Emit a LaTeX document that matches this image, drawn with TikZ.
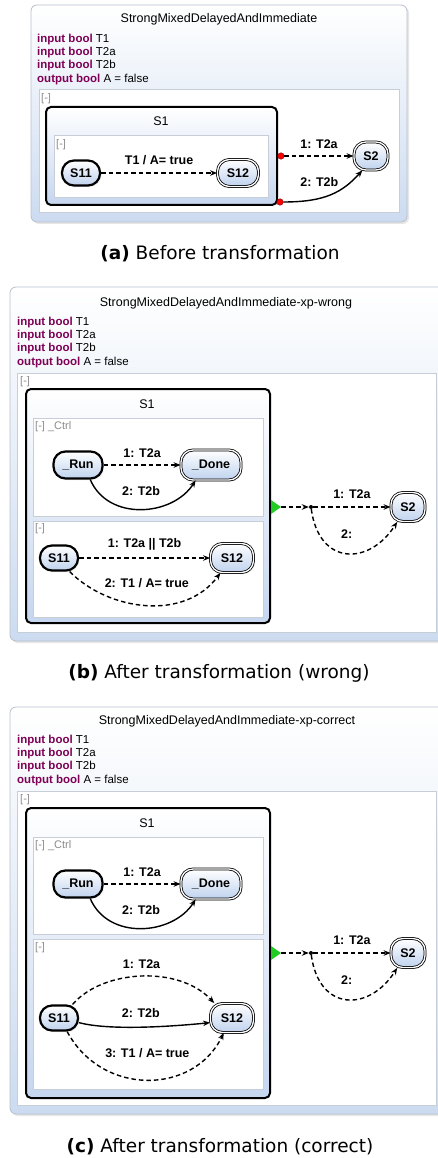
\documentclass[tikz,border=0pt]{standalone}
\usepackage{fontspec}
\setmainfont{Liberation Sans}
\newfontfamily\capfont{DejaVu Sans}
\usetikzlibrary{arrows.meta,shadows}

\definecolor{kwpurple}{HTML}{7F0055}
\definecolor{panelblue}{HTML}{CCDBF0}
\definecolor{panelline}{HTML}{B7C0CC}
\definecolor{regionline}{HTML}{C8CED8}
\definecolor{superblue}{HTML}{C6D6EF}
\definecolor{stateblue}{HTML}{BFD2EE}
\definecolor{foldgray}{HTML}{8C8C8C}
\definecolor{initgreen}{HTML}{22CC22}

\newcommand{\keyw}[1]{\textcolor{kwpurple}{\textbf{#1}}}

\begin{document}
\begin{tikzpicture}[
  x=1pt, y=-1pt,
  panel/.style={draw=panelline, line width=0.8pt, rounded corners=6pt, top color=white, bottom color=panelblue,
    drop shadow={opacity=0.2, shadow xshift=2pt, shadow yshift=-2pt}},
  region/.style={draw=regionline, line width=0.8pt, fill=white},
  superstate/.style={draw, line width=2pt, rounded corners=5pt, top color=white, bottom color=superblue},
  statenode/.style={rectangle, rounded corners=12pt, draw, inner sep=0pt, top color=white, bottom color=stateblue,
    font=\bfseries\fontsize{12.5}{15}\selectfont,
    drop shadow={opacity=0.15, shadow xshift=1.5pt, shadow yshift=-1.5pt}},
  initstate/.style={statenode, line width=2.2pt},
  finalstate/.style={statenode, line width=0.8pt, double, double distance=1.3pt},
  trans/.style={-{Stealth[length=7pt,width=5.5pt]}, line width=1.4pt},
  delayed/.style={trans, dash pattern=on 4.5pt off 3pt},
  lbl/.style={font=\bfseries\fontsize{12.5}{15}\selectfont, inner sep=1pt},
  heading/.style={font=\fontsize{12.5}{15}\selectfont},
  decls/.style={anchor=north west, inner sep=0pt, align=left, font=\fontsize{11.5}{13.4}\selectfont},
  fold/.style={anchor=west, inner sep=0pt, text=foldgray, font=\fontsize{11}{13}\selectfont},
  subcap/.style={font=\capfont\fontsize{18.5}{22}\selectfont},
  port/.style={circle, draw=red!50!black, fill=red, inner sep=0pt, minimum size=6.5pt},
  junction/.style={circle, fill, inner sep=0pt, minimum size=4pt}
]
  \useasboundingbox (0,0) rectangle (438,1158);
  \clip (0,0) rectangle (438,1158);

  % (a) before transformation
  \draw[panel] (31,5) rectangle (407,222);
  \node[heading] at (219,19) {StrongMixedDelayedAndImmediate};
  \node[decls] at (37,33.6) {\keyw{input bool} T1\\ \keyw{input bool} T2a\\ \keyw{input bool} T2b\\ \keyw{output bool} A = false};
  \draw[region] (39,89) rectangle (399,212);
  \node[fold] at (41,99) {[-]};
  \draw[superstate] (46,107) rectangle (277,205);
  \node[heading] at (161,121) {S1};
  \draw[region] (54,135) rectangle (268,197);
  \node[fold] at (56,145) {[-]};

  \node[initstate, minimum width=38pt, minimum height=25pt] (S11a) at (81,173) {S11};
  \node[finalstate, minimum width=41pt, minimum height=27pt] (S12a) at (238,173) {S12};
  \node[finalstate, minimum width=34pt, minimum height=28pt] (S2a) at (371,156) {S2};
  \node[port] (portA1) at (281,156) {};
  \node[port] (portA2) at (280,202) {};

  \draw[delayed] (S11a) -- node[lbl,above=7pt] {T1 / A= true} (S12a);
  \draw[delayed] (portA1) -- node[lbl,above=6pt] {1: T2a} (S2a);
  \draw[trans] (portA2) .. controls +(45,0) and +(-20,22) .. (S2a.-121) node[lbl,pos=0.35,above=10pt] {2: T2b};

  \node[subcap] at (220,254) {\textbf{(a)} Before transformation};

  % (b) after transformation, wrong
  \draw[panel] (10,287) rectangle (445,641);
  \node[heading] at (226,303) {StrongMixedDelayedAndImmediate-xp-wrong};
  \node[decls] at (17,316.6) {\keyw{input bool} T1\\ \keyw{input bool} T2a\\ \keyw{input bool} T2b\\ \keyw{output bool} A = false};
  \draw[region] (17,373) rectangle (436,632);
  \node[fold] at (20,382) {[-]};
  \draw[superstate] (26,389) rectangle (270,623);
  \node[heading] at (147,404) {S1};
  \draw[region] (33,418) rectangle (263,516);
  \node[fold] at (35,427) {[-] \_Ctrl};
  \draw[region] (33,521) rectangle (263,617);
  \node[fold] at (35,529) {[-]};

  \node[initstate, minimum width=49pt, minimum height=27pt] (Runb) at (78,465) {\_Run};
  \node[finalstate, minimum width=60pt, minimum height=30pt] (Doneb) at (211,465) {\_Done};
  \node[initstate, minimum width=38pt, minimum height=25pt] (S11b) at (59,558) {S11};
  \node[finalstate, minimum width=43pt, minimum height=29pt] (S12b) at (232,558) {S12};
  \node[finalstate, minimum width=34pt, minimum height=29pt] (S2b) at (408,507) {S2};
  \node[junction] (junb) at (311,507) {};
  \fill[initgreen] (271,500) -- (281,507) -- (271,514) -- cycle;
  \coordinate (startb) at (281,507);

  \draw[delayed] (Runb) -- node[lbl,above=6pt] {1: T2a} (Doneb);
  \draw[trans] (Runb.-50) .. controls +(18,42) and +(-23,36) .. (Doneb.-135) node[lbl,pos=0.5,above=12pt] {2: T2b};
  \draw[delayed] (S11b) -- node[lbl,above=6pt] {1: T2a || T2b} (S12b);
  \draw[delayed] (S11b.-52) .. controls +(40,40) and +(-35,48) .. (S12b.-128) node[lbl,pos=0.5,above=16pt] {2: T1 / A= true};
  \draw[delayed] (startb) -- (junb);
  \draw[delayed] (junb) -- node[lbl,above=7pt] {1: T2a} (S2b);
  \draw[delayed] (junb) .. controls +(8,59) and +(-28,44) .. (S2b.-126) node[lbl,pos=0.5,above=13pt] {2:};

  \node[subcap] at (219,673) {\textbf{(b)} After transformation (wrong)};

  % (c) after transformation, correct
  \draw[panel] (10,707) rectangle (445,1114);
  \node[heading] at (227,721) {StrongMixedDelayedAndImmediate-xp-correct};
  \node[decls] at (17,734.6) {\keyw{input bool} T1\\ \keyw{input bool} T2a\\ \keyw{input bool} T2b\\ \keyw{output bool} A = false};
  \draw[region] (17,791) rectangle (436,1105);
  \node[fold] at (20,800) {[-]};
  \draw[superstate] (26,808) rectangle (270,1098);
  \node[heading] at (147,823) {S1};
  \draw[region] (33,837) rectangle (263,934);
  \node[fold] at (35,846) {[-] \_Ctrl};
  \draw[region] (33,939) rectangle (263,1089);
  \node[fold] at (35,948) {[-]};

  \node[initstate, minimum width=49pt, minimum height=27pt] (Runc) at (78,884) {\_Run};
  \node[finalstate, minimum width=60pt, minimum height=30pt] (Donec) at (211,884) {\_Done};
  \node[initstate, minimum width=38pt, minimum height=25pt] (S11c) at (59,1018) {S11};
  \node[finalstate, minimum width=43pt, minimum height=29pt] (S12c) at (232,1018) {S12};
  \node[finalstate, minimum width=34pt, minimum height=29pt] (S2c) at (408,953) {S2};
  \node[junction] (junc) at (311,953) {};
  \fill[initgreen] (271,946) -- (281,953) -- (271,960) -- cycle;
  \coordinate (startc) at (281,953);

  \draw[delayed] (Runc) -- node[lbl,above=6pt] {1: T2a} (Donec);
  \draw[trans] (Runc.-50) .. controls +(18,42) and +(-23,36) .. (Donec.-135) node[lbl,pos=0.5,above=12pt] {2: T2b};
  \draw[delayed] (S11c.45) .. controls +(30,-35) and +(-35,-38) .. (S12c.140) node[lbl,pos=0.5,above=6pt] {1: T2a};
  \draw[trans] (S11c.-13) .. controls +(30,8) and +(-40,4) .. (S12c.-168) node[lbl,pos=0.5,above=7.5pt] {2: T2b};
  \draw[delayed] (S11c.-59) .. controls +(35,65) and +(-30,62) .. (S12c.-119) node[lbl,pos=0.5,above=20pt] {3: T1 / A= true};
  \draw[delayed] (startc) -- (junc);
  \draw[delayed] (junc) -- node[lbl,above=7pt] {1: T2a} (S2c);
  \draw[delayed] (junc) .. controls +(8,59) and +(-28,44) .. (S2c.-126) node[lbl,pos=0.5,above=13pt] {2:};

  \node[subcap] at (220,1147) {\textbf{(c)} After transformation (correct)};
\end{tikzpicture}
\end{document}
